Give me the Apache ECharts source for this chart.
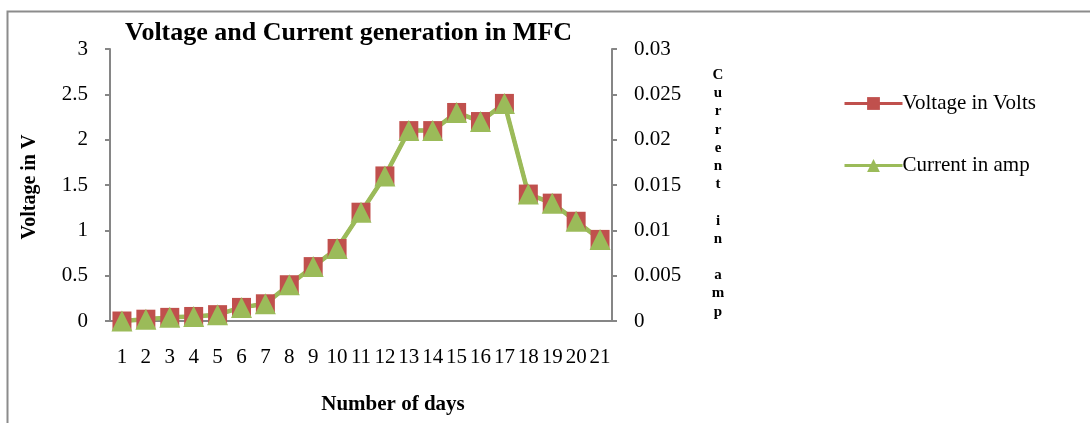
<!DOCTYPE html>
<html><head><meta charset="utf-8">
<script src="https://cdn.jsdelivr.net/npm/echarts@6/dist/echarts.min.js"></script>
<style>html,body{margin:0;padding:0;background:#fff}#c{width:1090px;height:423px}</style>
</head><body><div id="c"></div>
<script>
const days = ['1','2','3','4','5','6','7','8','9','10','11','12','13','14','15','16','17','18','19','20','21'];
const voltage = [0.0,0.02,0.04,0.05,0.07,0.15,0.19,0.4,0.6,0.8,1.2,1.6,2.1,2.1,2.3,2.2,2.4,1.4,1.3,1.1,0.9];
const current = [0.0,0.0002,0.0004,0.0005,0.0007,0.0015,0.0019,0.004,0.006,0.008,0.012,0.016,0.021,0.021,0.023,0.022,0.024,0.014,0.013,0.011,0.009];
const leftTicks = [0,0.5,1,1.5,2,2.5,3];
const rightTicks = [0,0.005,0.01,0.015,0.02,0.025,0.03];

const FONT = '"Liberation Serif", "Times New Roman", serif';
const chart = echarts.init(document.getElementById('c'));
const axisGray = '#868686';
chart.setOption({
  animation: false,
  backgroundColor: '#fff',
  grid: {left: 110, right: 478, top: 49, bottom: 102, containLabel: false},
  title: {text: 'Voltage and Current generation in MFC', left: 120, top: 15,
    textStyle: {fontFamily: FONT, fontSize: 26, fontWeight: 'bold', color: '#000'}},
  legend: {orient: 'vertical', left: 838, top: 88, itemWidth: 58, itemHeight: 16, itemGap: 41,
    lineStyle: {width: 3},
    textStyle: {fontFamily: FONT, fontSize: 21, color: '#000', padding: [0,0,0,-5]},
    data: ['Voltage in Volts', 'Current in amp']},
  xAxis: {type: 'category', data: days, boundaryGap: true,
    axisLine: {lineStyle: {color: axisGray, width: 2}}, axisTick: {show: false},
    axisLabel: {color: '#000', fontFamily: FONT, fontSize: 21, margin: 26, interval: 0}},
  yAxis: [
    {type: 'value', min: 0, max: 3, interval: 0.5, splitLine: {show: false},
     axisLine: {show: true, lineStyle: {color: axisGray, width: 2}},
     axisTick: {show: true, length: 5, lineStyle: {color: axisGray, width: 2}},
     axisLabel: {color: '#000', fontFamily: FONT, fontSize: 21, margin: 22,
       formatter: v => leftTicks.includes(v) ? String(v) : ''}},
    {type: 'value', min: 0, max: 0.03, interval: 0.005, position: 'right', splitLine: {show: false},
     axisLine: {show: true, lineStyle: {color: axisGray, width: 2}},
     axisTick: {show: true, length: 5, lineStyle: {color: axisGray, width: 2}},
     axisLabel: {color: '#000', fontFamily: FONT, fontSize: 21, margin: 22,
       formatter: v => { const r = rightTicks.find(t => Math.abs(t - v) < 1e-9); return r === undefined ? '' : String(r); }}}
  ],
  series: [
    {name: 'Voltage in Volts', type: 'line', yAxisIndex: 0, data: voltage,
     symbol: 'rect', symbolSize: 19, color: '#C0504D',
     lineStyle: {color: '#C0504D', width: 3.5}, itemStyle: {color: '#C0504D'}},
    {name: 'Current in amp', type: 'line', yAxisIndex: 1, data: current,
     symbol: 'triangle', symbolSize: 21, color: '#9BBB59',
     lineStyle: {color: '#9BBB59', width: 4.5}, itemStyle: {color: '#9BBB59'}}
  ],
  graphic: [
    {type: 'rect', shape: {x: 7.5, y: 11.5, width: 1200, height: 500}, style: {fill: 'none', stroke: '#8c8c8c', lineWidth: 2}, silent: true, z: -10},
    {type: 'text', x: 30, y: 187, rotation: Math.PI/2, style: {text: 'Voltage in V', font: 'bold 20px ' + FONT, fill: '#000', textAlign: 'center', textVerticalAlign: 'middle'}},
    {type: 'text', x: 393, y: 405, style: {text: 'Number of days', font: 'bold 21px ' + FONT, fill: '#000', textAlign: 'center', textVerticalAlign: 'middle'}},
    {type: 'text', x: 718, y: 66, style: {text: 'C\nu\nr\nr\ne\nn\nt\n \ni\nn\n \na\nm\np', font: 'bold 15px ' + FONT, lineHeight: 18.2, fill: '#000', textAlign: 'center', textVerticalAlign: 'top'}}
  ]
});
</script></body></html>
